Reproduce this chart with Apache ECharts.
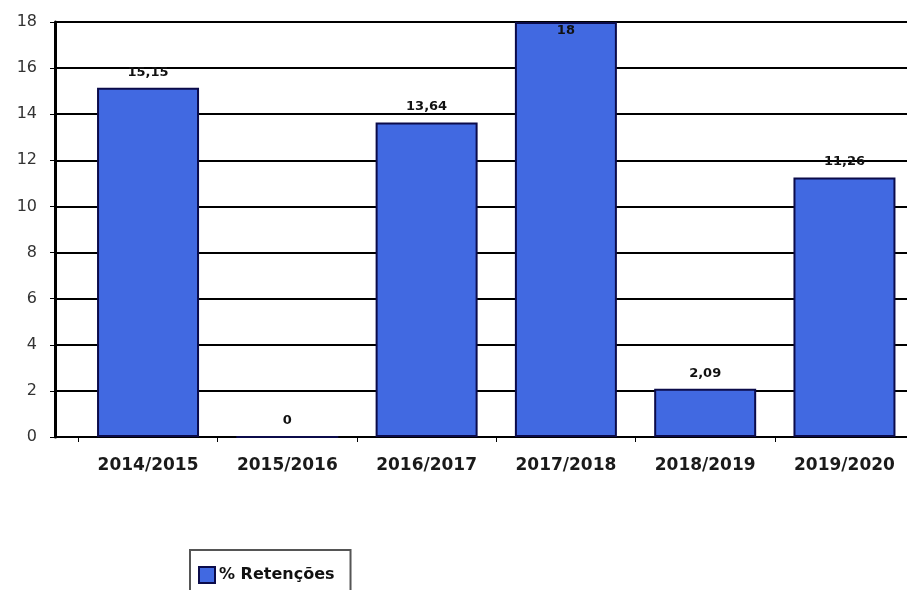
<!DOCTYPE html>
<html>
<head>
<meta charset="utf-8">
<script src="https://cdn.jsdelivr.net/npm/echarts@6/dist/echarts.min.js"></script>
<style>
  html, body { margin: 0; padding: 0; background: #fff; }
  #chart { width: 907px; height: 590px; }
</style>
</head>
<body>
<div id="chart"></div>
<script>
// dados do gráfico
var categories = ['2014/2015', '2015/2016', '2016/2017', '2017/2018', '2018/2019', '2019/2020'];
var retencoes = [15.15, 0, 13.64, 18, 2.09, 11.26];
var seriesName = '% Retenções';

var fmt = function (v) { return String(v).replace('.', ','); };

var barData = [];
for (var i = 0; i < retencoes.length; i++) {
  var item = { value: [i, retencoes[i]] };
  if (retencoes[i] >= 18) {
    item.label = { position: 'insideTop', distance: 2 };
  }
  barData.push(item);
}

var catIdx = categories.map(function (c, i) { return i; });
var bounds = categories.slice(0, 5).map(function (c, i) { return i - 0.5; }).concat([4.5]);

var myChart = echarts.init(document.getElementById('chart'));
var option = {
  animation: false,
  grid: { left: 55, right: 0, top: 22, bottom: 153 },
  legend: {
    left: 190, top: 550,
    data: [seriesName],
    icon: 'rect',
    itemWidth: 16, itemHeight: 16, itemGap: 8,
    padding: [16, 16, 20, 8],
    borderColor: '#555', borderWidth: 2,
    textStyle: { fontFamily: 'DejaVu Sans', fontWeight: 'bold', fontSize: 16, color: '#111', padding: [0, 0, 0, -1] }
  },
  xAxis: {
    type: 'value',
    min: -0.668, max: 5.449,
    splitLine: { show: false },
    axisLine: { show: true, lineStyle: { color: '#000', width: 2 } },
    axisTick: { show: true, customValues: bounds, length: 5, lineStyle: { color: '#000' } },
    axisLabel: {
      customValues: catIdx,
      formatter: function (v) { return categories[Math.round(v)]; },
      margin: 20,
      fontFamily: 'DejaVu Sans', fontWeight: 'bold', fontSize: 17, color: '#1a1a1a'
    }
  },
  yAxis: {
    type: 'value',
    min: 0, max: 18, interval: 2,
    axisLine: { show: true, onZero: false, lineStyle: { color: '#000', width: 3 } },
    axisTick: { show: true, length: 5, lineStyle: { color: '#000' } },
    axisLabel: { margin: 18, fontFamily: 'DejaVu Sans', fontSize: 16, color: '#333' },
    splitLine: { lineStyle: { color: '#000', width: 2 } }
  },
  series: [{
    name: seriesName,
    type: 'bar',
    barWidth: 102,
    data: barData,
    itemStyle: { color: '#4169e1', borderColor: '#0b0b4a', borderWidth: 2 },
    label: {
      show: true, position: 'top', distance: 9,
      formatter: function (p) { return fmt(p.value[1]); },
      fontFamily: 'DejaVu Sans', fontWeight: 'bold', fontSize: 13, color: '#111'
    }
  }]
};
myChart.setOption(option);
</script>
</body>
</html>
